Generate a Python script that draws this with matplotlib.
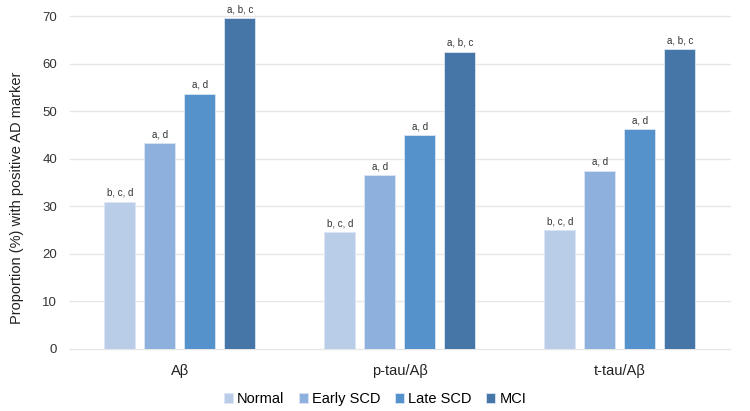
import numpy as np
import matplotlib.pyplot as plt

plt.rcParams['font.family'] = ['Liberation Sans', 'DejaVu Sans']

categories = ['Aβ', 'p-tau/Aβ', 't-tau/Aβ']
groups = ['Normal', 'Early SCD', 'Late SCD', 'MCI']
values = {
    'Normal': [31.0, 24.5, 25.0],
    'Early SCD': [43.3, 36.5, 37.5],
    'Late SCD': [53.7, 45.0, 46.2],
    'MCI': [69.5, 62.5, 63.0],
}
annotations = {
    'Normal': ['b, c, d', 'b, c, d', 'b, c, d'],
    'Early SCD': ['a, d', 'a, d', 'a, d'],
    'Late SCD': ['a, d', 'a, d', 'a, d'],
    'MCI': ['a, b, c', 'a, b, c', 'a, b, c'],
}
colors = ['#b9cde9', '#8db0dc', '#5592cb', '#4676a7']

fig = plt.figure(figsize=(7.5, 4.11), dpi=100)
ax = fig.add_axes([0.093, 0.151, 0.88, 0.81])

x = np.arange(len(categories))
width = 0.141
step = 0.182
for i, (g, c) in enumerate(zip(groups, colors)):
    pos = x + (i - 1.5) * step
    bars = ax.bar(pos, values[g], width, color=c, edgecolor='#dbe6f3',
                  linewidth=0.6, label=g, zorder=3)
    for b, txt in zip(bars, annotations[g]):
        ax.text(b.get_x() + b.get_width() / 2, b.get_height() + 0.8, txt,
                ha='center', va='bottom', fontsize=7, color='#333333')

ax.set_xlim(-0.5, 2.5)
ax.set_ylim(0, 70)
ax.set_yticks(range(0, 71, 10))
ax.set_xticks(x)
ax.set_xticklabels(categories, fontsize=10.5, color='#222222')
ax.tick_params(axis='y', labelsize=9.5, colors='#333333', length=0, pad=9)
ax.tick_params(axis='x', length=0, pad=11)
ax.grid(axis='y', color='#e6e6e6', linewidth=1, zorder=0)
for gl in ax.get_ygridlines():
    gl.set_clip_on(False)
for s in ax.spines.values():
    s.set_visible(False)
ax.set_ylabel('Proportion (%) with positive AD marker', fontsize=10.5,
              color='#222222')
ax.yaxis.set_label_coords(-0.07, 0.455)

fig.legend(loc='lower center', ncol=4, frameon=False, fontsize=10.5,
           bbox_to_anchor=(0.5, -0.02), handlelength=0.6, handleheight=0.6,
           handletextpad=0.3, columnspacing=1.0)

fig.savefig('out.png', dpi=100)
